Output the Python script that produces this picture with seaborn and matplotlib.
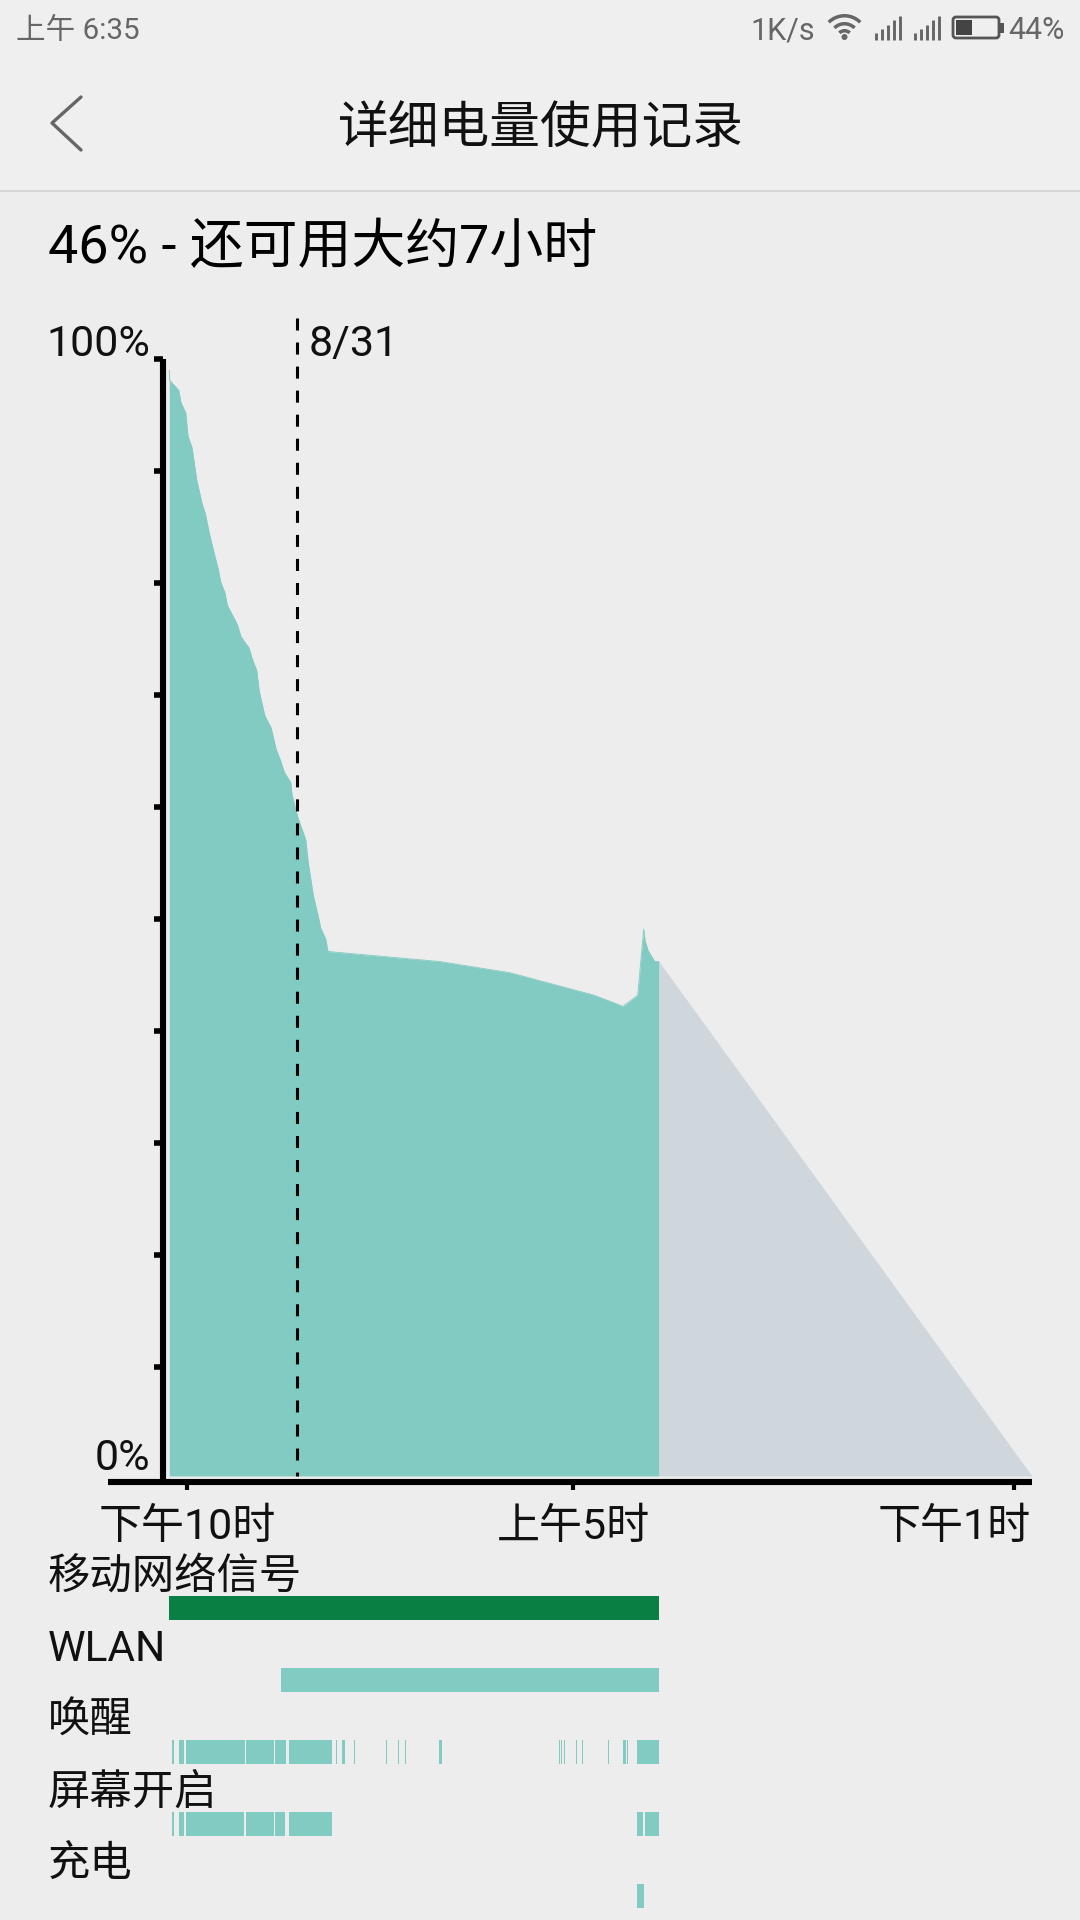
"""Battery usage detail screen: level curve, projection and activity lanes."""
import matplotlib
matplotlib.use("Agg")
import matplotlib.pyplot as plt
from matplotlib.patches import FancyBboxPatch, Rectangle, Wedge, Circle
from matplotlib.transforms import ScaledTranslation
import pandas as pd
import seaborn as sns

# ── Colours ───────────────────────────────────────────────
BG = "#EDEDED"; HEADER = "#EFEFEF"; RULE = "#D6D6D6"
TEAL = "#81CBC2"; GREEN = "#0A7F44"; SLATE = "#CFD6DC"
INK = "#111111"; GRAY = "#666666"

# ── Data: hours after 22:00, battery percent ──────────────
hours = [-0.321, -0.314, -0.150, -0.109, -0.024, 0.018, 0.091, 0.176, 0.272, 0.332,
         0.393, 0.490, 0.568, 0.611, 0.689, 0.731, 0.912, 0.979, 1.124, 1.191,
         1.264, 1.311, 1.414, 1.523, 1.614, 1.699, 1.764, 1.880, 1.904, 2.007,
         2.152, 2.199, 2.290, 2.381, 2.424, 2.515, 2.557, 4.587, 5.857, 7.380,
         7.906, 8.172, 8.281, 8.305, 8.359, 8.480, 8.558]
level = [99.0, 98.1, 97.2, 96.1, 95.2, 93.1, 92.1, 89.2, 87.1, 86.2,
         84.7, 82.7, 81.2, 80.1, 79.1, 78.0, 76.3, 75.2, 74.2, 73.1,
         72.2, 70.3, 68.1, 67.1, 65.2, 64.1, 63.1, 62.2, 61.1, 59.1,
         57.1, 55.0, 52.1, 50.2, 49.2, 48.2, 47.1, 46.2, 45.2, 43.2,
         42.2, 43.2, 49.1, 48.1, 47.2, 46.2, 46.2]
proj_hours = [8.558, 15.322]
proj_level = [46.2, 0.27]
fill_floor = 0.27
date_mark = 1.989
date_label = "8/31"

x_ticks = [0, 7, 15]
x_labels = ["下午10时", "上午5时", "下午1时"]
y_ticks = [100, 90, 80, 70, 60, 50, 40, 30, 20, 10]

lane_names = ["移动网络信号", "WLAN", "唤醒", "屏幕开启", "充电"]
lane_colors = [GREEN, TEAL, TEAL, TEAL, TEAL]
signal_spans = [(-0.326, 8.558)]
wlan_spans = [(1.704, 8.558)]
wake_spans = [(-0.272, -0.236), (-0.145, -0.054), (-0.018, 1.052), (1.070, 1.578),
              (1.596, 1.795), (1.850, 2.629), (2.702, 2.720), (2.811, 2.865),
              (3.028, 3.046), (3.608, 3.626), (3.826, 3.844), (3.953, 3.971),
              (4.569, 4.624), (6.745, 6.763), (6.782, 6.800), (6.836, 6.854),
              (7.053, 7.072), (7.162, 7.180), (7.634, 7.652), (7.906, 7.960),
              (7.978, 7.996), (8.160, 8.558)]
screen_spans = [(-0.272, -0.236), (-0.145, -0.054), (-0.018, 1.034), (1.070, 1.578),
                (1.596, 1.777), (1.850, 2.629), (8.160, 8.268), (8.305, 8.558)]
charge_spans = [(8.160, 8.287)]
lanes = [signal_spans, wlan_spans, wake_spans, screen_spans, charge_spans]

# ── Layout (pixels on the 1080x1920 canvas) ───────────────
W, H = 1080, 1920
def rect(x0, y0, x1, y1):
    return [x0 / W, 1 - y1 / H, (x1 - x0) / W, (y1 - y0) / H]

# one hour = 55.15 px, 10 percent = 112 px
X_MIN = (108 - 187) / 55.15
X_MAX = (1032 - 187) / 55.15
Y_MIN = (1479 - 1482) / 11.2
Y_MAX = (1479 - 316) / 11.2

sns.set_theme(style="white")
plt.rcParams["font.family"] = ["Roboto", "Noto Sans CJK SC", "DejaVu Sans"]

fig = plt.figure(figsize=(W / 100, H / 100), dpi=100, facecolor=BG)

# ── Chrome layer in pixel coordinates ─────────────────────
ui = fig.add_axes([0, 0, 1, 1], zorder=0)
ui.set_xlim(0, W); ui.set_ylim(H, 0); ui.axis("off")
ui.add_patch(Rectangle((0, 0), W, 190, color=HEADER, lw=0))
ui.add_patch(Rectangle((0, 189.5), W, 2.5, color=RULE, lw=0))
ui.plot([81, 52, 81], [97, 123, 150], color=GRAY, lw=2.4, solid_capstyle="round")
ui.text(16, 39, "上午 6:35", fontsize=21.3, color=GRAY, va="baseline", ha="left")
ui.text(750, 39, "1K/s", fontsize=22, color=GRAY, va="baseline", ha="left")
ui.text(1065, 39, "44%", fontsize=22, color=GRAY, va="baseline", ha="right")
ui.text(541, 143, "详细电量使用记录", fontsize=36.5, color=INK, va="baseline", ha="center")
ui.text(48, 263, "46% - 还可用大约7小时", fontsize=38.8, color="black", va="baseline", ha="left")

# wifi glyph
for r in (24, 16, 9):
    ui.add_patch(Wedge((844.5, 38), r, 225, 315, width=3.5, color=GRAY, lw=0))
ui.add_patch(Circle((844.5, 37), 3, color=GRAY, lw=0))
# two signal glyphs
for x0 in (875.5, 914.5):
    for i, top in enumerate([33, 29, 25, 20, 16]):
        ui.plot([x0 + i * 6] * 2, [top, 40], color=GRAY, lw=2.1, solid_capstyle="butt")
# battery glyph
ui.add_patch(FancyBboxPatch((953, 17), 46, 21, boxstyle="round,pad=0,rounding_size=3",
                            fc="none", ec="#555555", lw=2))
ui.add_patch(Rectangle((956, 20), 16, 15, color="#444444", lw=0))
ui.add_patch(Rectangle((1000, 23), 3.5, 10, color="#555555", lw=0))

# ── Level chart ───────────────────────────────────────────
ax = fig.add_axes(rect(108, 316, 1032, 1482), zorder=1)
ax.patch.set_alpha(0)
ax.fill_between(hours, level, fill_floor, color=TEAL, lw=0)
ax.fill_between(proj_hours, proj_level, fill_floor, color=SLATE, lw=0)
curve = pd.DataFrame({"hours": hours, "level": level})
sns.lineplot(data=curve, x="hours", y="level", ax=ax, color=TEAL, lw=0.6,
             sort=False, estimator=None, zorder=2)
ax.plot([date_mark, date_mark], [(1479 - 318) / 11.2, fill_floor], color="black", lw=2.2,
        dashes=(12 / 3.05, 12 / 3.05), dash_capstyle="butt", zorder=3)
ui.text(309, 356, date_label, fontsize=31, color=INK, va="baseline", ha="left")

ax.set_xlim(X_MIN, X_MAX)
ax.set_ylim(Y_MIN, Y_MAX)
ax.set_xlabel(""); ax.set_ylabel("")

sns.despine(ax=ax, top=True, right=True, left=True, bottom=True)
ax.set_xticks(x_ticks)
ax.set_xticklabels(x_labels, fontsize=31, color=INK)
ax.tick_params(axis="x", length=6, width=3, color="black", pad=12, bottom=True, direction="out")
# the last label is held inside the right edge of the chart
last = ax.get_xticklabels()[-1]
last.set_ha("right")
last.set_transform(last.get_transform() + ScaledTranslation(17 / 100, 0, fig.dpi_scale_trans))
ax.set_yticks(y_ticks)
ax.set_yticklabels([])
ax.tick_params(axis="y", length=0)
ax.grid(False)

# heavy axis lines
ax.plot([X_MIN, X_MAX], [Y_MIN, Y_MIN], color="black", lw=4.4, zorder=4,
        solid_capstyle="butt", clip_on=False)
spine_x = (163 - 187) / 55.15
ax.plot([spine_x, spine_x], [Y_MIN, 100], color="black", lw=4.4, zorder=4,
        solid_capstyle="butt", clip_on=False)
for v in y_ticks:
    ax.plot([(154 - 187) / 55.15, spine_x], [v, v], color="black", lw=4, zorder=4,
            solid_capstyle="butt", clip_on=False)
ui.text(150.5, 356, "100%", fontsize=31, color=INK, ha="right", va="baseline")
ui.text(150.5, 1470, "0%", fontsize=31, color=INK, ha="right", va="baseline")

# ── Activity lanes ────────────────────────────────────────
lane_ax = fig.add_axes(rect(108, 1540, 1032, 1920), zorder=1)
lane_ax.patch.set_alpha(0)
lane_ax.set_xlim(X_MIN, X_MAX)
lane_ax.set_ylim(380, 0)
lane_ax.axis("off")
for i, (name, spans, color) in enumerate(zip(lane_names, lanes, lane_colors)):
    lane_ax.broken_barh([(a, b - a) for a, b in spans], (56 + 72 * i, 24),
                        facecolors=color, lw=0)
    ui.text(48, 1589 + 72 * i, name, fontsize=30.5, color=INK, ha="left", va="baseline")

fig.savefig("out.png", dpi=100, facecolor=BG)
plt.close()
